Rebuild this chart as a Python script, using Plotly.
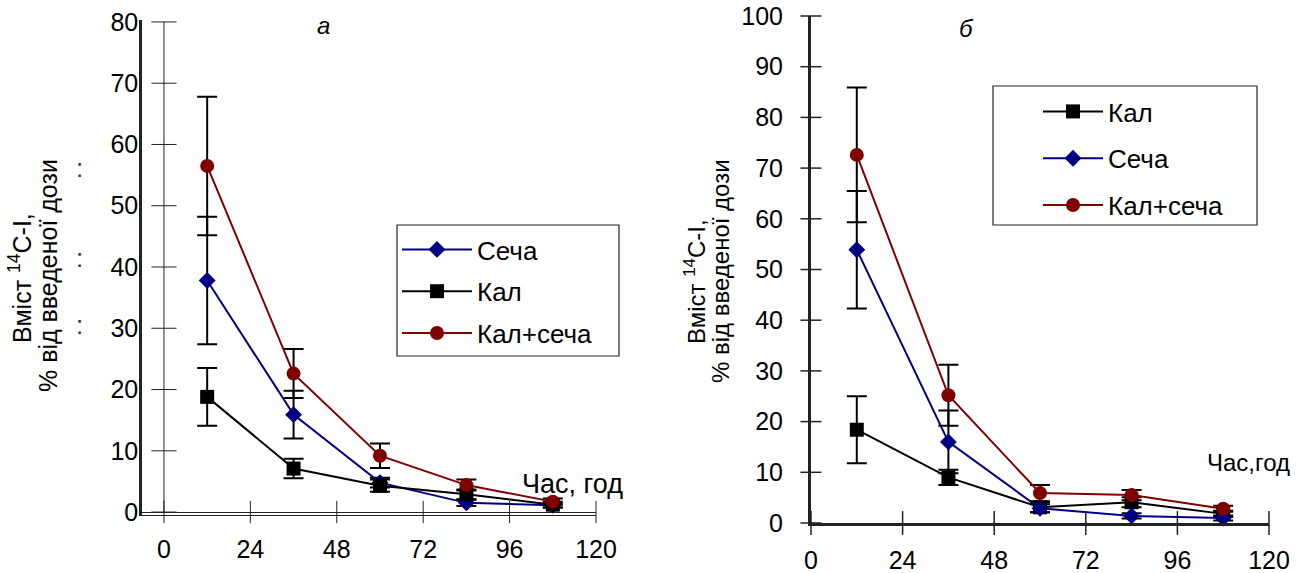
import plotly.graph_objects as go

# ---------------- data ----------------
times = [12, 36, 60, 84, 108]
x_ticks = [0, 24, 48, 72, 96, 120]
a_y_ticks = [0, 10, 20, 30, 40, 50, 60, 70, 80]
b_y_ticks = [0, 10, 20, 30, 40, 50, 60, 70, 80, 90, 100]

# panel а
a_secha = [37.8, 15.9, 4.8, 1.5, 1.1]
a_secha_err = [10.4, 3.9, 0.8, 0.5, 0.3]
a_kal = [18.8, 7.1, 4.3, 2.9, 1.2]
a_kal_err = [4.7, 1.6, 1.0, 0.8, 0.5]
a_sum = [56.5, 22.6, 9.2, 4.4, 1.7]
a_sum_err = [11.3, 4.0, 2.0, 0.9, 0.5]

# panel б
b_kal = [18.4, 9.0, 3.1, 4.1, 1.8]
b_kal_err = [6.6, 1.5, 1.0, 1.0, 0.6]
b_secha = [53.9, 16.0, 2.9, 1.4, 1.0]
b_secha_err = [11.6, 6.2, 0.8, 0.5, 0.5]
b_sum = [72.6, 25.2, 5.9, 5.5, 2.8]
b_sum_err = [13.3, 6.0, 1.6, 1.0, 0.6]

names = {"kal": "Кал", "secha": "Сеча", "sum": "Кал+сеча"}
y_title_1 = "Вміст <sup>14</sup>C-I,"
y_title_2 = "% від введеної дози"

# ---------------- styling ----------------
W, H = 1306, 573
FONT = "Liberation Sans, Arial, sans-serif"
BLUE = "#000080"
RED = "#800000"
BLACK = "#000000"
AX = "#222222"


def fx(p):
    return p / W


def fy(p):
    return 1 - p / H


fig = go.Figure()


def series(x, y, err, name, color, symbol, size, xa, ya, legend, lw=2):
    fig.add_trace(go.Scatter(
        x=x, y=y, name=name, mode="lines+markers",
        line=dict(color=color, width=lw),
        marker=dict(color=color, symbol=symbol, size=size),
        error_y=dict(type="data", array=err, visible=True, color=BLACK,
                     thickness=2, width=10),
        xaxis=xa, yaxis=ya, legend=legend, legendgroup=legend + name,
        cliponaxis=False,
    ))


# panel а (legend order: Сеча, Кал, Кал+сеча)
series(times, a_secha, a_secha_err, names["secha"], BLUE, "diamond", 13, "x", "y", "legend")
series(times, a_kal, a_kal_err, names["kal"], BLACK, "square", 14, "x", "y", "legend")
series(times, a_sum, a_sum_err, names["sum"], RED, "circle", 14, "x", "y", "legend")

# panel б (legend order: Кал, Сеча, Кал+сеча)
series(times, b_kal, b_kal_err, names["kal"], BLACK, "square", 14, "x2", "y2", "legend2")
series(times, b_secha, b_secha_err, names["secha"], BLUE, "diamond", 13, "x2", "y2", "legend2")
series(times, b_sum, b_sum_err, names["sum"], RED, "circle", 14, "x2", "y2", "legend2")

# axis decorations for panel а: thin vertical line at x=0 with crossing ticks
fig.add_trace(go.Scatter(x=[0, 0], y=[a_y_ticks[0], a_y_ticks[-1]], mode="lines",
                         line=dict(color=AX, width=1), showlegend=False,
                         hoverinfo="skip", xaxis="x", yaxis="y", cliponaxis=False))
fig.add_trace(go.Scatter(x=[0] * len(a_y_ticks), y=a_y_ticks, mode="markers",
                         marker=dict(symbol="line-ew", size=18,
                                     line=dict(color=AX, width=1)),
                         showlegend=False, hoverinfo="skip", xaxis="x", yaxis="y",
                         cliponaxis=False))
fig.add_trace(go.Scatter(x=x_ticks, y=[0] * len(x_ticks), mode="markers",
                         marker=dict(symbol="line-ns", size=16,
                                     line=dict(color=AX, width=1)),
                         showlegend=False, hoverinfo="skip", xaxis="x", yaxis="y",
                         cliponaxis=False))
# crossing ticks for panel б
fig.add_trace(go.Scatter(x=[0] * len(b_y_ticks), y=b_y_ticks, mode="markers",
                         marker=dict(symbol="line-ew", size=15,
                                     line=dict(color=AX, width=1.5)),
                         showlegend=False, hoverinfo="skip", xaxis="x2", yaxis="y2",
                         cliponaxis=False))
fig.add_trace(go.Scatter(x=x_ticks, y=[0] * len(x_ticks), mode="markers",
                         marker=dict(symbol="line-ns", size=17,
                                     line=dict(color=AX, width=1.5)),
                         showlegend=False, hoverinfo="skip", xaxis="x2", yaxis="y2",
                         cliponaxis=False))

tickfont = dict(family=FONT, size=25, color=BLACK)

fig.update_layout(
    width=W, height=H,
    margin=dict(l=0, r=0, t=0, b=0),
    paper_bgcolor="white", plot_bgcolor="white",
    font=dict(family=FONT, color=BLACK),
    xaxis=dict(domain=[fx(142), fx(596)], range=[-6.1, 120], tickvals=x_ticks,
               ticks="", showline=True, linecolor=AX, linewidth=1,
               showgrid=False, zeroline=False, tickfont=tickfont,
               ticklabelstandoff=12, anchor="y", automargin=False),
    yaxis=dict(domain=[fy(514.5), fy(19.5)], range=[-0.4, 80.4], tickvals=a_y_ticks,
               ticks="", showline=True, linecolor=AX, linewidth=2.5,
               showgrid=False, zeroline=True, zerolinecolor=AX, zerolinewidth=1,
               tickfont=tickfont, ticklabelstandoff=-4, anchor="x", automargin=False),
    xaxis2=dict(domain=[fx(811), fx(1269)], range=[0, 120], tickvals=x_ticks,
                ticks="", showline=True, linecolor=AX, linewidth=3,
                showgrid=False, zeroline=False, tickfont=tickfont,
                ticklabelstandoff=13, anchor="y2", automargin=False),
    yaxis2=dict(domain=[fy(523), fy(16)], range=[0, 100], tickvals=b_y_ticks,
                ticks="", showline=True, linecolor=AX, linewidth=3,
                showgrid=False, zeroline=False, tickfont=tickfont,
                ticklabelstandoff=20, anchor="x2", automargin=False),
    legend=dict(x=fx(397), y=fy(226), xanchor="left", yanchor="top",
                bgcolor="rgba(0,0,0,0)", borderwidth=0,
                font=dict(family=FONT, size=26, color=BLACK),
                tracegroupgap=5, itemwidth=70),
    legend2=dict(x=fx(1038), y=fy(88), xanchor="left", yanchor="top",
                 bgcolor="rgba(0,0,0,0)", borderwidth=0,
                 font=dict(family=FONT, size=26, color=BLACK),
                 tracegroupgap=10, itemwidth=60),
    showlegend=True,
    shapes=[
        dict(type="rect", xref="paper", yref="paper", x0=fx(397), x1=fx(619),
             y0=fy(356), y1=fy(225), line=dict(color=AX, width=1.2), layer="above"),
        dict(type="rect", xref="paper", yref="paper", x0=fx(993), x1=fx(1257),
             y0=fy(225), y1=fy(86), line=dict(color=AX, width=1.2), layer="above"),
    ],
)


def txt(x, y, text, size, angle=0, color=BLACK):
    return dict(x=fx(x), y=fy(y), xref="paper", yref="paper", text=text,
                textangle=angle, showarrow=False, xanchor="center", yanchor="middle",
                font=dict(family=FONT, size=size, color=color))


ann = [
    txt(20, 278, y_title_1, 25, -90),
    txt(48, 276, y_title_2, 25, -90),
    txt(695, 282, y_title_1, 24, -90),
    txt(721, 271, y_title_2, 24, -90),
    txt(323, 25, "<i>а</i>", 24),
    txt(966, 29, "<i>б</i>", 24),
    txt(572, 484, "Час, год", 27),
    txt(1248, 462, "Час,год", 24),
]
for yy in [168, 258, 325]:
    ann.append(txt(79, yy, ":", 26, color="#333"))
fig.update_layout(annotations=ann)

fig.write_html("out.html", config={"displayModeBar": False},
               post_script="document.body.style.margin='0';document.body.style.overflow='hidden';")
